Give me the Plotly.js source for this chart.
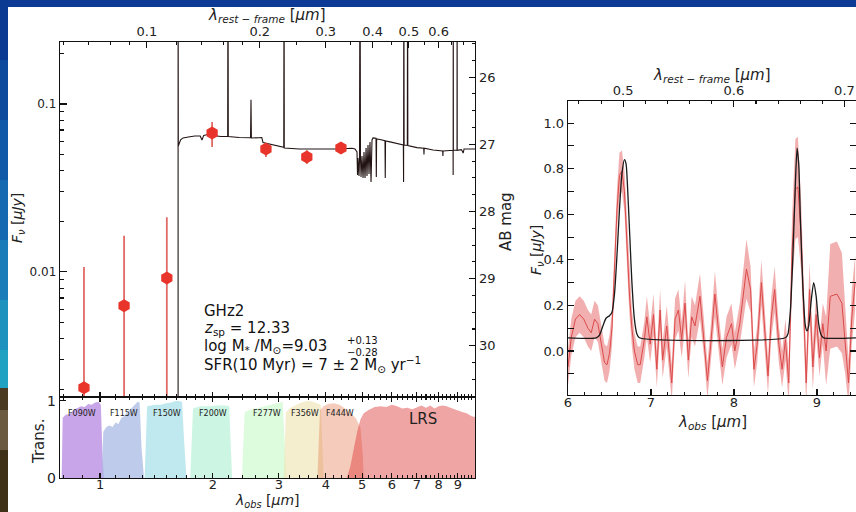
<!DOCTYPE html>
<html><head><meta charset="utf-8">
<script src="https://cdn.plot.ly/plotly-3.0.1.min.js"></script>
<style>html,body{margin:0;padding:0;background:#fff;}#chart{width:856px;height:512px;}</style>
</head><body><div id="chart"></div>
<script>
// ---------------- DATA ----------------
const redshiftFactor = 13.33; // 1 + z
// SED model (obs wavelength in micron, flux in microJy)
const sedWave = [1.600,1.615,1.615,1.617,1.640,1.665,1.72,1.79,1.85,1.87,1.89,1.95,2.00,2.10,2.19,2.194,2.198,2.35,2.52,2.527,2.533,2.65,2.70,2.72,2.85,3.00,3.09,3.096,3.10,3.40,3.80,4.30,4.70,4.786,4.845,4.860,4.875,4.905,4.920,4.935,4.950,4.966,4.996,5.028,5.058,5.090,5.122,5.152,5.184,5.216,5.248,5.281,5.313,5.346,5.445,5.455,5.465,5.58,5.754,5.763,5.773,5.934,6.20,6.44,6.45,6.46,6.47,6.60,6.61,6.62,7.00,7.30,7.31,7.32,7.73,8.00,8.20,8.21,8.22,8.74,8.745,8.75,8.755,8.955,8.96,8.965,9.20,9.30,9.35,10.0];
const sedFlux = [1e-5,1e-5,1.0,0.0562,0.0611,0.0628,0.0636,0.0645,0.0645,0.0611,0.0650,0.0660,0.0650,0.0640,0.0640,1.0,0.0640,0.0632,0.0630,0.106,0.0628,0.0630,0.0632,0.0590,0.0578,0.0560,0.0552,1.0,0.0547,0.0540,0.0538,0.0540,0.0545,0.0540,0.0518,0.0378,0.0477,0.0373,0.0464,1.0,0.0477,0.0368,0.0490,0.0363,0.0518,0.0363,0.0547,0.0373,0.0570,0.0383,0.0594,0.0343,0.0611,0.0628,0.0625,0.0368,0.0619,0.0615,0.0605,0.0363,0.0602,0.0595,0.0580,0.0570,0.0343,1.0,0.0570,0.0568,1.0,0.0566,0.0550,0.0545,0.0500,0.0545,0.0532,0.0530,0.0525,0.0490,0.0525,0.0530,0.0378,1.0,0.0530,0.0530,1.0,0.0530,0.0535,0.0510,0.0540,0.0540];
// photometry
const photWave = [0.906,1.159,1.507,1.99,2.77,3.56,4.39];
const photFlux = [0.00204,0.00628,0.0092,0.0672,0.054,0.0484,0.0547];
const photHi   = [0.0107,0.0164,0.0212,0.0781,0.0586,0.0530,0.0575];
const photLo   = [1e-5,1e-5,1e-5,0.0555,0.0483,0.0440,0.0520];
// filter transmission curves
const f090Wave = [0.79,0.795,0.81,0.83,0.85,0.87,0.89,0.91,0.93,0.95,0.97,0.99,1.005,1.015,1.025];
const f090Trans = [0,0.78,0.82,0.83,0.88,0.90,0.93,0.92,0.96,0.95,0.98,0.99,0.95,0.3,0];
const f115Wave = [1.01,1.02,1.04,1.06,1.08,1.10,1.12,1.14,1.16,1.18,1.20,1.22,1.24,1.26,1.275,1.29,1.31];
const f115Trans = [0,0.60,0.66,0.68,0.66,0.72,0.70,0.78,0.80,0.86,0.88,0.92,0.96,0.99,0.98,0.4,0];
const f150Wave = [1.315,1.335,1.40,1.45,1.50,1.55,1.60,1.655,1.675,1.70];
const f150Trans = [0,0.93,0.95,0.95,0.97,0.98,1.0,0.99,0.5,0];
const f200Wave = [1.74,1.77,1.85,1.95,2.05,2.15,2.21,2.235,2.25];
const f200Trans = [0,0.90,0.93,0.93,0.94,0.94,0.93,0.4,0];
const f277Wave = [2.39,2.43,2.5,2.6,2.7,2.8,2.9,3.0,3.07,3.12,3.14];
const f277Trans = [0,0.85,0.88,0.90,0.92,0.94,0.96,0.97,0.99,0.3,0];
const f356Wave = [3.09,3.13,3.2,3.3,3.4,3.5,3.6,3.7,3.8,3.88,3.92,3.95];
const f356Trans = [0,0.85,0.90,0.94,0.97,0.99,1.0,0.99,0.97,0.95,0.4,0];
const f444Wave = [3.80,3.86,3.95,4.05,4.2,4.35,4.5,4.65,4.8,4.95,5.02,5.05];
const f444Trans = [0,0.88,0.93,0.96,0.97,0.95,0.90,0.85,0.78,0.65,0.3,0];
const lrsWave = [4.55,4.65,4.75,4.85,4.95,5.05,5.2,5.4,5.6,5.8,6.0,6.2,6.4,6.6,6.8,7.0,7.2,7.4,7.6,7.8,8.0,8.2,8.4,8.6,8.8,9.0,9.2,9.5,9.8,10.0];
const lrsTrans = [0,0.15,0.38,0.60,0.76,0.84,0.88,0.92,0.93,0.92,0.95,0.93,0.90,0.91,0.89,0.92,0.94,0.91,0.94,0.90,0.93,0.94,0.93,0.91,0.89,0.88,0.86,0.84,0.80,0.79];
const filterNames = ['F090W','F115W','F150W','F200W','F277W','F356W','F444W'];
const filterLabelWave = [0.895,1.159,1.508,2.0,2.78,3.52,4.37];
// MIRI LRS spectrum (right panel)
const specWave = [6.00,6.04,6.09,6.14,6.19,6.24,6.28,6.32,6.36,6.40,6.44,6.47,6.50,6.53,6.56,6.59,6.62,6.65,6.68,6.71,6.74,6.77,6.80,6.84,6.87,6.92,6.95,6.99,7.03,7.07,7.11,7.14,7.19,7.25,7.29,7.33,7.37,7.41,7.45,7.49,7.53,7.59,7.64,7.68,7.72,7.77,7.83,7.86,7.91,7.97,8.01,8.07,8.15,8.20,8.24,8.28,8.33,8.37,8.41,8.45,8.49,8.54,8.58,8.62,8.66,8.70,8.74,8.77,8.81,8.84,8.87,8.91,8.95,8.99,9.03,9.07,9.11,9.16,9.24,9.30,9.34,9.38,9.42,9.46];
const specFlux = [-0.07,0.06,0.14,0.16,0.14,0.10,0.08,0.14,0.12,0.03,-0.05,-0.06,-0.01,0.10,0.35,0.62,0.77,0.79,0.70,0.48,0.25,0.10,0.00,-0.06,-0.06,0.05,0.15,0.03,0.16,-0.08,0.18,-0.04,0.11,-0.14,0.14,0.18,0.05,0.21,-0.04,0.15,0.11,0.24,0.05,-0.13,0.03,0.25,0.03,-0.07,0.06,0.12,0.00,0.12,0.36,0.27,-0.08,0.03,0.30,0.09,-0.11,0.15,0.27,0.03,-0.08,0.05,-0.14,0.44,0.71,0.72,0.50,0.18,-0.14,0.27,-0.07,0.16,-0.03,0.12,0.00,0.24,0.25,0.21,0.05,-0.14,0.15,0.30];
const specErr = [0.08,0.08,0.08,0.08,0.08,0.08,0.08,0.08,0.08,0.08,0.08,0.08,0.08,0.08,0.09,0.09,0.10,0.09,0.09,0.09,0.09,0.08,0.08,0.08,0.08,0.08,0.09,0.08,0.09,0.08,0.09,0.08,0.09,0.08,0.09,0.09,0.08,0.10,0.08,0.09,0.09,0.10,0.08,0.08,0.08,0.10,0.08,0.08,0.09,0.09,0.08,0.09,0.13,0.10,0.08,0.08,0.10,0.09,0.08,0.09,0.10,0.08,0.08,0.09,0.10,0.15,0.22,0.22,0.15,0.12,0.10,0.12,0.10,0.09,0.08,0.09,0.15,0.23,0.23,0.22,0.15,0.10,0.12,0.12];
// best-fit model in the right panel
const modelWave = [6.00,6.34,6.38,6.42,6.46,6.50,6.53,6.56,6.59,6.62,6.65,6.68,6.70,6.72,6.745,6.77,6.80,6.83,6.86,8.62,8.65,8.68,8.71,8.74,8.76,8.78,8.80,8.83,8.86,8.88,8.90,8.93,8.96,8.99,9.02,9.05,9.08,9.47];
const modelFlux = [0.058,0.058,0.07,0.11,0.145,0.155,0.17,0.25,0.42,0.62,0.78,0.84,0.82,0.70,0.50,0.30,0.14,0.075,0.058,0.058,0.075,0.18,0.42,0.74,0.89,0.82,0.58,0.28,0.11,0.088,0.11,0.22,0.30,0.24,0.12,0.07,0.058,0.058];
// tick labels
const restTicksLeft = [0.1,0.2,0.3,0.4,0.5,0.6];
const obsTicksLeft = [1,2,3,4,5,6,7,8,9];
const abTicks = [26,27,28,29,30];
const fluxTicksLeft = [0.01,0.1];
const fluxTicksRight = [0.0,0.2,0.4,0.6,0.8,1.0];
const obsTicksRight = [6,7,8,9];
const restTicksRight = [0.5,0.6,0.7];
const infoLines = ['GHz2','<i>z</i><sub>sp</sub> = 12.33','log M<sub>*</sub> /M<sub>⊙</sub>=9.03','SFR(10 Myr) = 7 ± 2 M<sub>⊙</sub> yr<sup>−1</sup>'];

// ---------------- LAYOUT HELPERS ----------------
const W = 856, H = 512;
const px = v => v / W, py = v => 1 - v / H;
const FONT = 'DejaVu Sans';
const INK = '#111';
const log = Math.log10;

const xLeftRange = [log(0.782), log(10.0)];
const yLeftRange = [log(0.0018), log(0.234)];
const abRange = yLeftRange.map(v => 23.9 - 2.5 * v);
const xRightRange = [6.0, 9.47];

function rng(a, b, s) { const o = []; for (let v = a; v <= b + 1e-9; v += s) o.push(+v.toFixed(4)); return o; }
const obsMinorLeft = [0.8,0.9].concat(rng(1.1,1.9,0.1), rng(2.2,2.8,0.2), rng(3.2,3.8,0.2), rng(4.2,4.8,0.2), rng(5.2,5.8,0.2), rng(6.2,6.8,0.2), rng(7.2,7.8,0.2), rng(8.2,8.8,0.2), rng(9.2,9.8,0.2));
const restMinorLeft = [0.06,0.07,0.08,0.09,0.12,0.14,0.16,0.18,0.25,0.35,0.45,0.55,0.65,0.7];
const fluxMinorLeft = [0.002,0.003,0.004,0.005,0.006,0.007,0.008,0.009,0.02,0.03,0.04,0.05,0.06,0.07,0.08,0.09,0.2];

const axBase = {showline:true, linecolor:INK, linewidth:1.3, ticks:'inside', tickcolor:INK, tickwidth:1.1, showgrid:false, zeroline:false, fixedrange:true, tickfont:{family:FONT, size:13, color:'#222'}};

const traces = [];
// filter curves
const filt = [
  [f090Wave,f090Trans,'rgba(185,140,225,0.78)'],
  [f115Wave,f115Trans,'rgba(170,185,228,0.75)'],
  [f150Wave,f150Trans,'rgba(170,225,232,0.75)'],
  [f200Wave,f200Trans,'rgba(190,242,220,0.78)'],
  [f277Wave,f277Trans,'rgba(212,250,212,0.8)'],
  [f356Wave,f356Trans,'rgba(238,228,180,0.65)'],
  [f444Wave,f444Trans,'rgba(230,120,80,0.38)'],
  [lrsWave,lrsTrans,'rgba(220,40,40,0.42)']
];
filt.forEach(f => traces.push({x:f[0], y:f[1], xaxis:'x3', yaxis:'y3', type:'scatter', mode:'lines', fill:'tozeroy', fillcolor:f[2], line:{width:0, color:f[2]}, hoverinfo:'skip'}));
// SED
traces.push({x:sedWave, y:sedFlux, xaxis:'x', yaxis:'y', type:'scatter', mode:'lines', line:{color:'#231414', width:1.1}, hoverinfo:'skip'});
// photometry
traces.push({x:photWave, y:photFlux, xaxis:'x', yaxis:'y', type:'scatter', mode:'markers',
  marker:{symbol:'hexagon', size:13, color:'#e8342a', line:{width:0}},
  error_y:{type:'data', symmetric:false, array:photHi.map((h,i)=>h-photFlux[i]), arrayminus:photLo.map((l,i)=>photFlux[i]-l), color:'#e06a66', thickness:1.8, width:0},
  hoverinfo:'skip'});
// dummy traces to activate overlay axes
traces.push({x:[0.1], y:[27], xaxis:'x2', yaxis:'y2', mode:'markers', marker:{opacity:0}, hoverinfo:'skip'});
// right panel spectrum band
traces.push({x:specWave, y:specFlux.map((v,i)=>v+specErr[i]), xaxis:'x4', yaxis:'y4', type:'scatter', mode:'lines', line:{width:0, color:'rgba(0,0,0,0)'}, hoverinfo:'skip'});
traces.push({x:specWave, y:specFlux.map((v,i)=>v-specErr[i]), xaxis:'x4', yaxis:'y4', type:'scatter', mode:'lines', fill:'tonexty', fillcolor:'rgba(232,110,110,0.55)', line:{width:0, color:'rgba(0,0,0,0)'}, hoverinfo:'skip'});
traces.push({x:specWave, y:specFlux, xaxis:'x4', yaxis:'y4', type:'scatter', mode:'lines', line:{color:'#dc4a4a', width:1}, hoverinfo:'skip'});
traces.push({x:modelWave, y:modelFlux, xaxis:'x4', yaxis:'y4', type:'scatter', mode:'lines', line:{color:'#1a1a1a', width:1.3, shape:'spline', smoothing:0.6}, hoverinfo:'skip'});
traces.push({x:[0.6], y:[0.5], xaxis:'x5', yaxis:'y4', mode:'markers', marker:{opacity:0}, hoverinfo:'skip'});

const layout = {
  width:W, height:H, margin:{l:0,r:0,t:0,b:0}, showlegend:false,
  paper_bgcolor:'#ffffff', plot_bgcolor:'#ffffff',
  font:{family:FONT, color:'#222'},
  xaxis: Object.assign({}, axBase, {type:'log', range:xLeftRange, domain:[px(60),px(475)], anchor:'y', tickvals:obsTicksLeft, showticklabels:false, ticklen:5,
    minor:{tickvals:obsMinorLeft, ticks:'inside', ticklen:3, tickcolor:INK}}),
  xaxis2: Object.assign({}, axBase, {type:'log', overlaying:'x', side:'top', anchor:'y', range:xLeftRange.map(v=>v-log(redshiftFactor)), tickvals:restTicksLeft, ticktext:restTicksLeft.map(String), ticklen:6,
    minor:{tickvals:restMinorLeft, ticks:'inside', ticklen:3, tickcolor:INK}}),
  yaxis: Object.assign({}, axBase, {type:'log', range:yLeftRange, domain:[py(397),py(42)], anchor:'x', tickvals:fluxTicksLeft, ticktext:['0.01','0.1'], ticklen:7, tickfont:{family:FONT,size:12,color:'#222'},
    minor:{tickvals:fluxMinorLeft, ticks:'inside', ticklen:4, tickcolor:INK}}),
  yaxis2: Object.assign({}, axBase, {overlaying:'y', side:'right', anchor:'x', range:abRange, tickvals:abTicks, ticktext:abTicks.map(String), ticklen:6, tickfont:{family:FONT,size:13,color:'#222'},
    minor:{dtick:0.25, ticks:'inside', ticklen:3, tickcolor:INK}}),
  xaxis3: Object.assign({}, axBase, {type:'log', range:xLeftRange, domain:[px(60),px(475)], anchor:'y3', tickvals:obsTicksLeft, ticktext:obsTicksLeft.map(String), ticklen:5, mirror:'allticks', ticklabelstandoff:-6,
    minor:{tickvals:obsMinorLeft, ticks:'inside', ticklen:3, tickcolor:INK}}),
  yaxis3: Object.assign({}, axBase, {range:[0,1.05], domain:[py(478),py(397)], anchor:'x3', tickvals:[0,1], ticktext:['0','1'], ticklen:6, mirror:true, tickfont:{family:FONT,size:14,color:'#222'}}),
  xaxis4: Object.assign({}, axBase, {range:xRightRange, domain:[px(568),1], anchor:'y4', tickvals:obsTicksRight, ticktext:obsTicksRight.map(String), ticklen:6, ticklabelstandoff:-5,
    minor:{dtick:0.2, ticks:'inside', ticklen:3, tickcolor:INK}}),
  xaxis5: Object.assign({}, axBase, {overlaying:'x4', side:'top', anchor:'y4', range:xRightRange.map(v=>v/redshiftFactor), tickvals:restTicksRight, ticktext:restTicksRight.map(v=>v.toFixed(1)), ticklen:6,
    minor:{dtick:0.02, ticks:'inside', ticklen:3, tickcolor:INK}}),
  yaxis4: Object.assign({}, axBase, {range:[-0.193,1.097], domain:[py(395),py(101)], anchor:'x4', tickvals:fluxTicksRight, ticktext:fluxTicksRight.map(v=>v.toFixed(1)), ticklen:6, mirror:'allticks',
    minor:{dtick:0.1, ticks:'inside', ticklen:3, tickcolor:INK}}),
  shapes:[], annotations:[]
};

// slide background strips
layout.shapes.push({type:'rect', xref:'paper', yref:'paper', x0:0, x1:1, y0:py(7), y1:1, fillcolor:'#0c3a94', line:{width:0}, layer:'below'});
const stripBands = [[0,60,'#0b3a92'],[60,120,'#0d4a9e'],[120,180,'#1059a8'],[180,240,'#1469b0'],[240,300,'#1a7cb8'],[300,350,'#1d92bf'],[350,388,'#20a2c2'],[388,410,'#4a3a22'],[410,450,'#6b5a40'],[450,512,'#3f3018']];
stripBands.forEach(b => layout.shapes.push({type:'rect', xref:'paper', yref:'paper', x0:0, x1:px(8), y0:py(b[1]), y1:py(b[0]), fillcolor:b[2], line:{width:0}, layer:'below'}));

const ann = (o) => layout.annotations.push(Object.assign({xref:'paper', yref:'paper', showarrow:false, font:{family:FONT, size:14, color:'#222'}}, o));
// axis titles
const restTitle = '<i>λ</i><sub><i>rest − frame</i></sub> [<i>μm</i>]';
const obsTitle = '<i>λ</i><sub><i>obs</i></sub> [<i>μm</i>]';
const fnuTitle = '<i>F</i><sub><i>ν</i></sub> [<i>μJy</i>]';
ann({text:restTitle, x:px(267), y:py(15), xanchor:'center', yanchor:'middle', font:{family:FONT,size:15,color:'#222'}});
ann({text:obsTitle, x:px(267), y:0, xanchor:'center', yanchor:'bottom', font:{family:FONT,size:14,color:'#222'}});
ann({text:fnuTitle, x:px(18), y:py(218), xanchor:'center', yanchor:'middle', textangle:-90});
ann({text:'Trans.', x:px(39), y:py(442), xanchor:'center', yanchor:'middle', textangle:-90, font:{family:FONT,size:15,color:'#222'}});
ann({text:'AB mag', x:px(506), y:py(222), xanchor:'center', yanchor:'middle', textangle:-90, font:{family:FONT,size:15,color:'#222'}});
ann({text:fnuTitle, x:px(537), y:py(250), xanchor:'center', yanchor:'middle', textangle:-90});
ann({text:restTitle, x:px(712), y:py(75), xanchor:'center', yanchor:'middle', font:{family:FONT,size:15,color:'#222'}});
ann({text:obsTitle, x:px(712), y:py(422), xanchor:'center', yanchor:'middle', font:{family:FONT,size:15,color:'#222'}});
// info text
const infoY = [311, 328, 346, 364];
infoLines.forEach((t,i) => ann({text:t, x:px(202), y:py(infoY[i]), xanchor:'left', yanchor:'middle', font:{family:FONT,size:15,color:'#111'}}));
ann({text:'+0.13', x:px(345), y:py(340), xanchor:'left', yanchor:'middle', font:{family:FONT,size:10,color:'#111'}});
ann({text:'−0.28', x:px(345), y:py(352), xanchor:'left', yanchor:'middle', font:{family:FONT,size:10,color:'#111'}});
// filter labels
filterNames.forEach((n,i) => layout.annotations.push({text:n, xref:'x3', yref:'y3', x:log(filterLabelWave[i]), y:0.83, showarrow:false, xanchor:'center', yanchor:'middle', font:{family:FONT, size:8, color:'#222'}}));
layout.annotations.push({text:'LRS', xref:'x3', yref:'y3', x:log(7.27), y:0.77, showarrow:false, xanchor:'center', yanchor:'middle', font:{family:FONT, size:15, color:'#222'}});

Plotly.newPlot('chart', traces, layout, {staticPlot:true, displayModeBar:false});
</script></body></html>
